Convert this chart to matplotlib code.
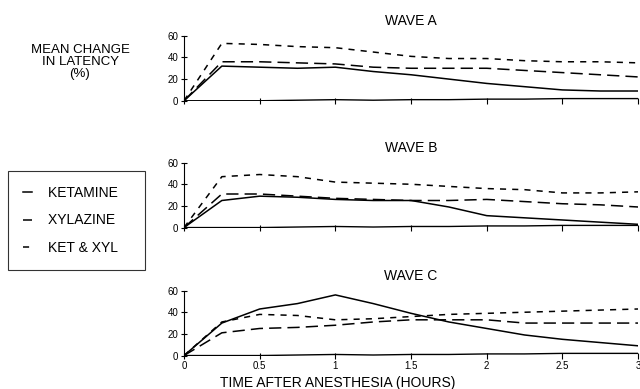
import matplotlib
matplotlib.use("Agg")
import matplotlib.pyplot as plt

plt.rcParams['font.family'] = ['Liberation Sans', 'DejaVu Sans']

# 시간 (hours)
time = [0, 0.25, 0.5, 0.75, 1.0, 1.25, 1.5, 1.75, 2.0, 2.25, 2.5, 2.75, 3.0]

# WAVE A
a_ket = [0, 32, 31, 30, 31, 27, 24, 20, 16, 13, 10, 9, 9]
a_xyl = [0, 36, 36, 35, 34, 31, 30, 30, 30, 28, 26, 24, 22]
a_both = [0, 53, 52, 50, 49, 45, 41, 39, 39, 37, 36, 36, 35]

# WAVE B
b_ket = [0, 25, 29, 28, 26, 25, 25, 19, 11, 9, 7, 5, 3]
b_xyl = [0, 31, 31, 29, 27, 26, 25, 25, 26, 24, 22, 21, 19]
b_both = [0, 47, 49, 47, 42, 41, 40, 38, 36, 35, 32, 32, 33]

# WAVE C
c_ket = [0, 30, 43, 48, 56, 48, 39, 31, 25, 19, 15, 12, 9]
c_xyl = [0, 21, 25, 26, 28, 31, 33, 33, 33, 30, 30, 30, 30]
c_both = [0, 31, 38, 37, 33, 34, 36, 38, 39, 40, 41, 42, 43]

# 기준선 (거의 0)
base = [0, 0, 0, 0.5, 1, 0.5, 1, 1, 1.5, 1.5, 2, 2, 2]

waves = [("WAVE A", a_ket, a_xyl, a_both),
         ("WAVE B", b_ket, b_xyl, b_both),
         ("WAVE C", c_ket, c_xyl, c_both)]

yticks = [0, 20, 40, 60]
xticks = [0, 0.5, 1, 1.5, 2, 2.5, 3]
xticklabels = ["0", "0.5", "1", "1.5", "2", "2.5", "3"]

fig = plt.figure(figsize=(6.4, 3.89), dpi=100)

# 패널 위치 (figure 비율)
left, width = 0.2875, 0.7095
bottoms = [0.741, 0.415, 0.086]
height = 0.167

for i, (title, ket, xyl, both) in enumerate(waves):
    ax = fig.add_axes([left, bottoms[i], width, height])
    ax.plot(time, ket, color='black', lw=1.1, label='KETAMINE')
    ax.plot(time, xyl, color='black', lw=1.1, dashes=(8, 4), label='XYLAZINE')
    ax.plot(time, both, color='black', lw=1.1, dashes=(4, 4), label='KET & XYL')
    ax.plot(time, base, color='black', lw=1.0)
    ax.set_xlim(0, 3)
    ax.set_ylim(0, 60)
    ax.set_yticks(yticks)
    ax.set_xticks(xticks)
    for s in ['top', 'right']:
        ax.spines[s].set_visible(False)
    ax.spines['bottom'].set_visible(False)
    ax.tick_params(axis='both', direction='inout', length=4, width=0.8,
                   labelsize=7, pad=2)
    if i < 2:
        ax.set_xticklabels([])
    else:
        ax.set_xticklabels(xticklabels)
    ax.text(0.5, 1.12, title, transform=ax.transAxes, ha='center',
            va='bottom', fontsize=10)
    ax.set_facecolor('none')

fig.text(338 / 640, 1 - 383 / 389, "TIME AFTER ANESTHESIA (HOURS)",
         ha='center', va='center', fontsize=10)

fig.text(80 / 640, 1 - 62 / 389, "MEAN CHANGE\nIN LATENCY\n(%)",
         ha='center', va='center', fontsize=9.5, linespacing=1.05)

handles, labels = ax.get_legend_handles_labels()
leg = fig.legend(handles, labels, loc='upper left',
                 bbox_to_anchor=(8 / 640, 1 - 171 / 389),
                 frameon=True, fancybox=False, edgecolor='black',
                 fontsize=10, handlelength=0.6, handletextpad=1.2,
                 labelspacing=0.95, borderpad=1.1, borderaxespad=0)
leg.get_frame().set_linewidth(0.8)
# 범례 상자를 원본처럼 조금 넓게
for t in leg.get_texts():
    t.set_text(t.get_text() + "   ")

fig.savefig("out.png", dpi=100)
